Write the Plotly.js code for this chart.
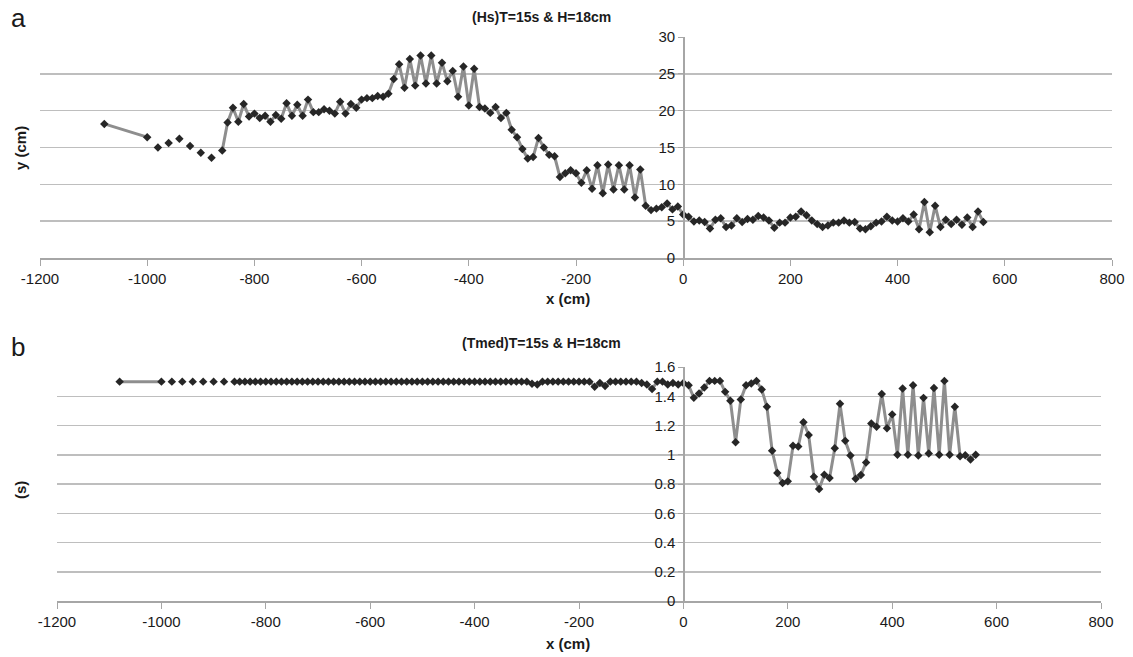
<!DOCTYPE html>
<html>
<head>
<meta charset="utf-8">
<script src="https://cdn.plot.ly/plotly-3.0.1.min.js"></script>
<style>
  html, body { margin: 0; padding: 0; background: #ffffff; }
  #chart { width: 1133px; height: 657px; }
</style>
</head>
<body>
<div id="chart"></div>
<script>
// x positions (cm)
var xPos = [-1080,-1000,-990,-980,-970,-960,-950,-940,-930,-920,-910,-900,-890,-880,-870,-860,
  -850,-840,-830,-820,-810,-800,-790,-780,-770,-760,-750,-740,-730,-720,-710,-700,-690,-680,-670,-660,
  -650,-640,-630,-620,-610,-600,-590,-580,-570,-560,-550,-540,-530,-520,-510,-500,-490,-480,-470,-460,
  -450,-440,-430,-420,-410,-400,-390,-380,-370,-360,-350,-340,-330,-320,-310,-300,-290,-280,-270,-260,
  -250,-240,-230,-220,-210,-200,-190,-180,-170,-160,-150,-140,-130,-120,-110,-100,-90,-80,-70,-60,
  -50,-40,-30,-20,-10,0,10,20,30,40,50,60,70,80,90,100,110,120,130,140,150,160,170,180,190,200,
  210,220,230,240,250,260,270,280,290,300,310,320,330,340,350,360,370,380,390,400,410,420,430,440,
  450,460,470,480,490,500,510,520,530,540,550,560];

// (a) Hs (cm)
var hsValues = [18.2,16.4,null,15.0,null,15.6,null,16.2,null,15.2,null,14.3,null,13.6,null,14.6,
  18.4,20.4,18.5,20.9,19.2,19.6,19.0,19.3,18.5,19.4,18.9,21.0,19.3,20.8,19.3,21.5,19.8,19.8,20.2,20.0,
  19.6,21.2,19.6,20.9,20.4,21.5,21.7,21.7,22.0,21.9,22.3,24.3,26.3,23.1,27.0,23.4,27.5,23.7,27.5,23.7,
  26.5,24.0,25.4,21.9,26.0,20.7,25.7,20.5,20.3,19.7,20.5,19.0,19.7,17.4,16.4,14.8,13.5,13.7,16.3,15.0,
  14.0,13.8,11.0,11.5,11.9,11.5,10.2,11.9,9.4,12.6,8.8,12.7,9.3,12.6,9.3,12.6,8.2,12.0,7.1,6.5,
  6.7,6.9,7.4,6.6,7.0,5.9,5.6,4.95,5.1,4.9,4.0,5.2,5.4,4.2,4.4,5.4,4.9,5.3,5.2,5.7,5.5,5.1,4.1,4.8,4.8,5.5,
  5.6,6.3,5.8,5.1,4.6,4.2,4.4,4.8,4.8,5.1,4.8,4.9,4.0,3.9,4.3,4.8,4.95,5.6,5.1,4.95,5.4,4.95,5.9,3.9,
  7.6,3.5,7.1,4.2,5.2,4.6,5.2,4.5,5.5,4.2,6.3,4.9];

// (b) Tmed (s)
var tmedValues = [1.5,1.5,null,1.5,null,1.5,null,1.5,null,1.5,null,1.5,null,1.5,null,1.5,
  1.5,1.5,1.5,1.5,1.5,1.5,1.5,1.5,1.5,1.5,1.5,1.5,1.5,1.5,1.5,1.5,1.5,1.5,1.5,1.5,
  1.5,1.5,1.5,1.5,1.5,1.5,1.5,1.5,1.5,1.5,1.5,1.5,1.5,1.5,1.5,1.5,1.5,1.5,1.5,1.5,
  1.5,1.5,1.5,1.5,1.5,1.5,1.5,1.5,1.5,1.5,1.5,1.5,1.5,1.5,1.5,1.5,1.486,1.48,1.5,1.5,
  1.5,1.5,1.5,1.5,1.5,1.5,1.5,1.5,1.465,1.49,1.47,1.5,1.5,1.5,1.5,1.5,1.5,1.49,1.48,1.45,
  1.5,1.5,1.48,1.49,1.48,1.49,1.475,1.389,1.419,1.46,1.505,1.505,1.505,1.43,1.369,1.086,1.378,1.475,1.487,1.505,1.446,1.328,1.027,0.875,0.807,0.818,
  1.061,1.056,1.222,1.135,0.85,0.766,0.864,0.841,1.045,1.348,1.095,0.995,0.836,0.861,0.947,1.213,1.192,1.416,1.181,1.276,1.0,1.453,1.0,1.475,
  0.995,1.389,1.009,1.457,1.0,1.505,1.0,1.328,0.99,0.997,0.968,1.0];

var xTickVals = [-1200,-1000,-800,-600,-400,-200,0,200,400,600,800];
var xTickText = ["-1200","-1000","-800","-600","-400","-200","0","200","400","600","800"];
var hsTickVals = [0,5,10,15,20,25,30];
var hsTickText = ["0","5","10","15","20","25","30"];
var tmedTickVals = [0,0.2,0.4,0.6,0.8,1,1.2,1.4,1.6];
var tmedTickText = ["0","0.2","0.4","0.6","0.8","1","1.2","1.4","1.6"];

var W = 1133, H = 657;
function px(x) { return x / W; }
function py(y) { return 1 - y / H; }

var lineStyle = { color: '#8e8e8e', width: 3 };
var markerStyle = { symbol: 'diamond', size: 6.5, color: '#262626' };

var traces = [
  { x: xPos, y: hsValues, type: 'scatter', mode: 'lines+markers', xaxis: 'x', yaxis: 'y',
    line: lineStyle, marker: markerStyle, connectgaps: false, showlegend: false, hoverinfo: 'x+y' },
  { x: xPos, y: tmedValues, type: 'scatter', mode: 'lines+markers', xaxis: 'x2', yaxis: 'y2',
    line: lineStyle, marker: markerStyle, connectgaps: false, showlegend: false, hoverinfo: 'x+y' }
];

var fontFam = '"Liberation Sans", Arial, sans-serif';
var tickFont = { family: fontFam, size: 15, color: '#1a1a1a' };
var gridCol = '#bebebe';
var axCol = '#a6a6a6';

var xd1 = [px(40), px(1112)];
var xd2 = [px(57), px(1101)];

var layout = {
  width: W, height: H,
  margin: { l: 0, r: 0, t: 0, b: 0 },
  paper_bgcolor: '#ffffff', plot_bgcolor: '#ffffff',
  font: { family: fontFam, color: '#1a1a1a' },
  showlegend: false,
  xaxis: {
    domain: xd1, range: [-1200, 800], anchor: 'y',
    tickmode: 'array', tickvals: xTickVals, ticktext: xTickText,
    ticks: 'outside', ticklen: 6, tickwidth: 1, tickcolor: axCol,
    showline: true, linecolor: axCol, linewidth: 1.5,
    showgrid: false, zeroline: false, tickfont: tickFont
  },
  yaxis: {
    domain: [py(258), py(37)], range: [0, 30], anchor: 'free',
    position: xd1[0] + 0.6 * (xd1[1] - xd1[0]),
    tickmode: 'array', tickvals: hsTickVals, ticktext: hsTickText,
    ticks: 'outside', ticklen: 5, tickwidth: 1, tickcolor: axCol,
    showline: true, linecolor: axCol, linewidth: 1.5,
    showgrid: true, gridcolor: gridCol, gridwidth: 1.5, zeroline: false, tickfont: tickFont
  },
  xaxis2: {
    domain: xd2, range: [-1200, 800], anchor: 'y2',
    tickmode: 'array', tickvals: xTickVals, ticktext: xTickText,
    ticks: 'outside', ticklen: 6, tickwidth: 1, tickcolor: axCol,
    showline: true, linecolor: axCol, linewidth: 1.5,
    showgrid: false, zeroline: false, tickfont: tickFont
  },
  yaxis2: {
    domain: [py(601), py(367)], range: [0, 1.6], anchor: 'free',
    position: xd2[0] + 0.6 * (xd2[1] - xd2[0]),
    tickmode: 'array', tickvals: tmedTickVals, ticktext: tmedTickText,
    ticks: 'outside', ticklen: 5, tickwidth: 1, tickcolor: axCol,
    showline: true, linecolor: axCol, linewidth: 1.5,
    showgrid: true, gridcolor: gridCol, gridwidth: 1.5, zeroline: false, tickfont: tickFont
  },
  annotations: [
    { text: 'a', x: px(18), y: py(18), xref: 'paper', yref: 'paper', showarrow: false,
      xanchor: 'center', yanchor: 'middle', font: { family: fontFam, size: 26, color: '#1a1a1a' } },
    { text: 'b', x: px(18), y: py(347), xref: 'paper', yref: 'paper', showarrow: false,
      xanchor: 'center', yanchor: 'middle', font: { family: fontFam, size: 26, color: '#1a1a1a' } },
    { text: '<b>(Hs)T=15s & H=18cm</b>', x: px(541), y: py(17), xref: 'paper', yref: 'paper', showarrow: false,
      xanchor: 'center', yanchor: 'middle', font: { family: fontFam, size: 14, color: '#1a1a1a' } },
    { text: '<b>(Tmed)T=15s & H=18cm</b>', x: px(541), y: py(343), xref: 'paper', yref: 'paper', showarrow: false,
      xanchor: 'center', yanchor: 'middle', font: { family: fontFam, size: 14, color: '#1a1a1a' } },
    { text: '<b>x (cm)</b>', x: px(568), y: py(299), xref: 'paper', yref: 'paper', showarrow: false,
      xanchor: 'center', yanchor: 'middle', font: { family: fontFam, size: 15, color: '#1a1a1a' } },
    { text: '<b>x (cm)</b>', x: px(568), y: py(643), xref: 'paper', yref: 'paper', showarrow: false,
      xanchor: 'center', yanchor: 'middle', font: { family: fontFam, size: 15, color: '#1a1a1a' } },
    { text: '<b>y (cm)</b>', x: px(20), y: py(148), xref: 'paper', yref: 'paper', showarrow: false, textangle: -90,
      xanchor: 'center', yanchor: 'middle', font: { family: fontFam, size: 15, color: '#1a1a1a' } },
    { text: '<b>(s)</b>', x: px(20), y: py(490), xref: 'paper', yref: 'paper', showarrow: false, textangle: -90,
      xanchor: 'center', yanchor: 'middle', font: { family: fontFam, size: 15, color: '#1a1a1a' } }
  ]
};

Plotly.newPlot('chart', traces, layout, { displayModeBar: false, staticPlot: true });
</script>
</body>
</html>
